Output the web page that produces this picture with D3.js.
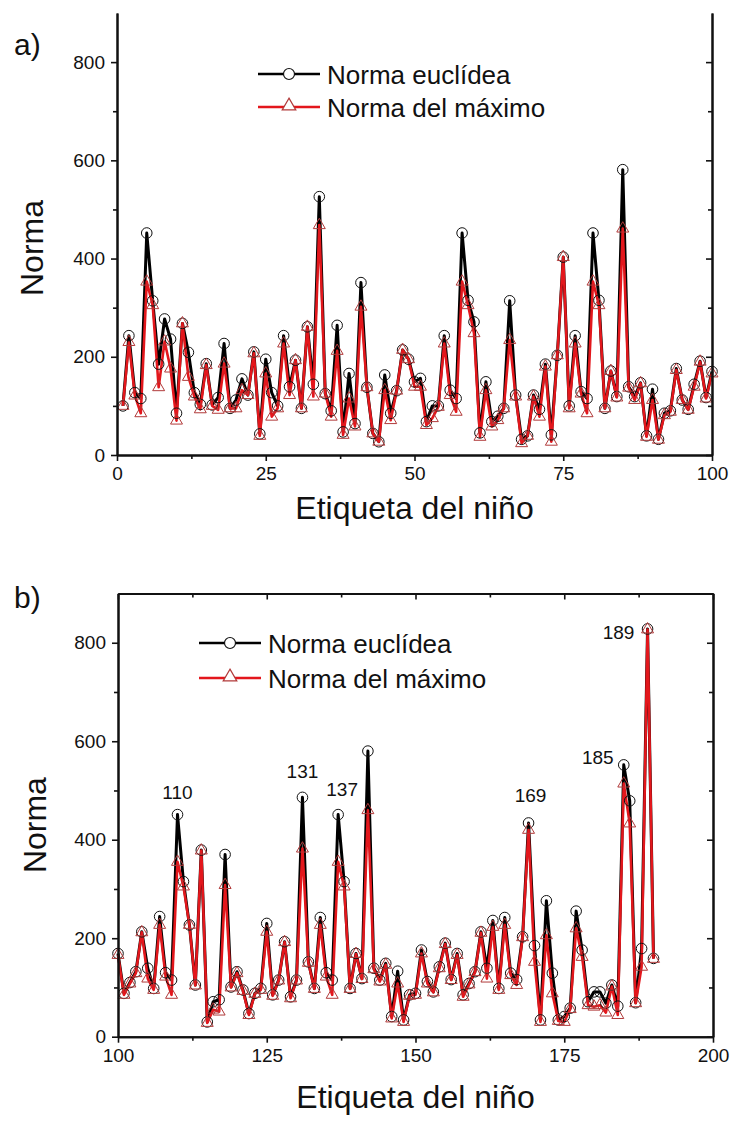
<!DOCTYPE html>
<html>
<head>
<meta charset="utf-8">
<script src="https://cdn.jsdelivr.net/npm/d3@7"></script>
<style>
  body { margin: 0; background: #fff; }
  text { font-family: "Liberation Sans", Arial, sans-serif; fill: #111; }
</style>
</head>
<body>
<div id="main"></div>
<script>
// etiquetas de los niños (1..100 y 100..190)
const ninosA = d3.range(1, 101);
const ninosB = d3.range(100, 191);

// panel a) norma euclídea / norma del máximo
const euclidA = [100, 243, 127, 115, 452, 314, 185, 277, 236, 85,
  268, 209, 127, 103, 186, 102, 117, 227, 95, 112,
  155, 122, 210, 43, 195, 127, 100, 243, 139, 193,
  95, 261, 144, 526, 125, 90, 264, 47, 166, 64,
  351, 138, 44, 27, 163, 85, 131, 214, 195, 149,
  156, 68, 100, 100, 243, 132, 115, 452, 315, 271,
  45, 149, 68, 79, 95, 314, 122, 32, 39, 122,
  93, 185, 41, 203, 403, 100, 243, 129, 115, 452,
  315, 95, 171, 119, 581, 139, 119, 147, 39, 134,
  32, 85, 90, 176, 112, 93, 144, 191, 117, 170];
const maximoA = [100, 230, 121, 85, 353, 305, 138, 231, 176, 70,
  268, 159, 119, 93, 183, 100, 92, 186, 95, 95,
  132, 122, 207, 39, 166, 78, 95, 227, 122, 193,
  95, 261, 119, 468, 125, 78, 212, 41, 115, 58,
  302, 138, 44, 27, 132, 71, 131, 214, 195, 139,
  139, 61, 75, 98, 227, 122, 88, 353, 305, 248,
  37, 132, 58, 71, 95, 234, 119, 24, 39, 119,
  78, 180, 27, 203, 403, 95, 227, 125, 85, 353,
  305, 95, 171, 117, 461, 137, 112, 146, 37, 112,
  31, 81, 88, 173, 112, 92, 139, 190, 115, 166];

// panel b)
const euclidB = [169, 88, 110, 132, 213, 139, 98, 244, 130, 115,
  451, 315, 227, 105, 379, 30, 71, 75, 370, 101,
  132, 95, 47, 88, 98, 230, 85, 115, 193, 81,
  115, 486, 152, 98, 242, 130, 115, 451, 315, 98,
  169, 118, 580, 139, 115, 149, 41, 133, 34, 85,
  88, 176, 112, 91, 142, 190, 116, 169, 85, 108,
  132, 213, 139, 236, 98, 242, 129, 116, 203, 434,
  185, 34, 276, 129, 34, 41, 58, 255, 176, 71,
  91, 91, 68, 105, 62, 552, 479, 69, 179, 828,
  159];
const maximoB = [166, 85, 108, 129, 212, 118, 95, 227, 122, 85,
  355, 305, 227, 104, 378, 28, 55, 51, 308, 100,
  129, 93, 44, 87, 95, 213, 83, 114, 192, 78,
  114, 382, 150, 97, 227, 122, 85, 355, 305, 97,
  168, 117, 460, 137, 112, 146, 37, 108, 30, 83,
  85, 169, 108, 90, 139, 188, 115, 166, 81, 106,
  131, 211, 118, 223, 95, 227, 125, 105, 202, 420,
  152, 30, 206, 88, 32, 30, 56, 220, 162, 64,
  61, 64, 49, 102, 44, 514, 433, 68, 142, 827,
  158];

// niños destacados en b)
const destacadosB = [110, 131, 137, 169, 185, 189];

const yTicks = [0, 200, 400, 600, 800];
const serieNombres = ["Norma euclídea", "Norma del máximo"];

class Painel {
  constructor(svg, config) {
    this.svg = svg;
    this.config = config;
    this.g = svg.append('g');
    this.createScales();
  }

  createScales() {
    let c = this.config;
    this.xScale = d3.scaleLinear().domain(c.xDomain).range([c.left, c.right]);
    this.yScale = d3.scaleLinear().domain([0, 900]).range([c.bottom, c.top]);
  }

  renderAxes() {
    let c = this.config;
    let xMajor = d3.range(c.xDomain[0], c.xDomain[1] + 1, 25);
    let xMinor = d3.range(c.xDomain[0] + 12.5, c.xDomain[1], 25);
    let yMinor = [100, 300, 500, 700];

    let bottom = d3.axisBottom(this.xScale).tickValues(xMajor).tickSize(6).tickSizeOuter(0).tickPadding(6);
    let bx = this.g.append('g').attr('transform', `translate(0,${c.bottom})`).call(bottom);
    bx.append('g').call(d3.axisBottom(this.xScale).tickValues(xMinor).tickSize(4).tickSizeOuter(0).tickFormat(''));

    let left = d3.axisLeft(this.yScale).tickValues(yTicks).tickSize(6).tickSizeOuter(0).tickPadding(6);
    let ly = this.g.append('g').attr('transform', `translate(${c.left},0)`).call(left);
    ly.append('g').call(d3.axisLeft(this.yScale).tickValues(yMinor).tickSize(4).tickSizeOuter(0).tickFormat(''));

    // eje derecho con marcas hacia dentro
    let ry = this.g.append('g').attr('transform', `translate(${c.right},0)`)
      .call(d3.axisRight(this.yScale).tickValues(yTicks).tickSize(-6).tickSizeOuter(0).tickFormat(''));
    ry.append('g').call(d3.axisRight(this.yScale).tickValues(yMinor).tickSize(-4).tickSizeOuter(0).tickFormat(''));

    if (c.box) {
      let tx = this.g.append('g').attr('transform', `translate(0,${c.top})`)
        .call(d3.axisTop(this.xScale).tickValues(xMajor).tickSize(-6).tickSizeOuter(0).tickFormat(''));
      tx.append('g').call(d3.axisTop(this.xScale).tickValues(xMinor).tickSize(-4).tickSizeOuter(0).tickFormat(''));
    }

    this.g.selectAll('.domain').attr('stroke', '#111').attr('stroke-width', 2);
    this.g.selectAll('.tick line').attr('stroke', '#111').attr('stroke-width', 1.6);
    this.g.selectAll('.tick text')
      .attr('font-size', c.tickSize).attr('fill', '#111')
      .attr('font-family', '"Liberation Sans", Arial, sans-serif');

    // títulos
    this.g.append('text')
      .attr('transform', `translate(${c.ytitleX},${(c.top + c.bottom) / 2 + c.ytitleDy}) rotate(-90)`)
      .attr('text-anchor', 'middle')
      .attr('font-size', c.titleSize)
      .text('Norma');
    this.g.append('text')
      .attr('x', (c.left + c.right) / 2)
      .attr('y', c.xtitleY)
      .attr('text-anchor', 'middle')
      .attr('font-size', c.titleSize)
      .text('Etiqueta del niño');
    this.g.append('text')
      .attr('x', 14)
      .attr('y', c.letterY)
      .attr('font-size', 30)
      .text(c.letter);
  }

  renderSeries(xs, euclid, maximo) {
    let x = this.xScale, y = this.yScale;
    let pe = xs.map((k, i) => ({ k: k, v: euclid[i] }));
    let pm = xs.map((k, i) => ({ k: k, v: maximo[i] }));
    let line = d3.line().x(d => x(d.k)).y(d => y(d.v));

    this.g.append('path').datum(pe).attr('d', line)
      .attr('fill', 'none').attr('stroke', '#000').attr('stroke-width', 3).attr('stroke-linejoin', 'round');
    this.g.append('path').datum(pm).attr('d', line)
      .attr('fill', 'none').attr('stroke', '#e3171c').attr('stroke-width', 2.6).attr('stroke-linejoin', 'round');

    this.g.append('g').selectAll('circle').data(pe).join('circle')
      .attr('cx', d => x(d.k)).attr('cy', d => y(d.v)).attr('r', 5.3)
      .attr('fill', 'none').attr('stroke', '#111').attr('stroke-width', 1);

    let tri = d3.symbol().type(d3.symbolTriangle).size(62);
    this.g.append('g').selectAll('path').data(pm).join('path')
      .attr('d', tri)
      .attr('transform', d => `translate(${x(d.k)},${y(d.v)})`)
      .attr('fill', 'none').attr('stroke', '#b13a3a').attr('stroke-width', 1);
  }

  renderLegend() {
    let c = this.config;
    let lg = this.g.append('g').attr('transform', `translate(${c.legendX},${c.legendY})`);
    let gap = c.legendGap;
    lg.append('line').attr('x1', 0).attr('x2', 62).attr('y1', 0).attr('y2', 0)
      .attr('stroke', '#000').attr('stroke-width', 2.6);
    lg.append('circle').attr('cx', 31).attr('cy', 0).attr('r', 5.5)
      .attr('fill', '#fff').attr('stroke', '#111').attr('stroke-width', 1.2);
    lg.append('line').attr('x1', 0).attr('x2', 62).attr('y1', gap).attr('y2', gap)
      .attr('stroke', '#e3171c').attr('stroke-width', 2.6);
    lg.append('path').attr('d', d3.symbol().type(d3.symbolTriangle).size(80))
      .attr('transform', `translate(31,${gap - 1})`)
      .attr('fill', '#fff').attr('stroke', '#b13a3a').attr('stroke-width', 1.2);
    lg.selectAll('text.ley').data(serieNombres).join('text')
      .attr('class', 'ley')
      .attr('x', 69)
      .attr('y', (d, i) => i * gap + 10)
      .attr('font-size', c.legendSize)
      .text(d => d);
  }

  renderLabels(ids, euclid, xs) {
    let off = { 110: [0, -23], 131: [0, -26], 137: [4, -26], 169: [2, -28], 185: [-26, -8], 189: [-29, 3] };
    let x = this.xScale, y = this.yScale;
    this.g.append('g').selectAll('text').data(ids).join('text')
      .attr('x', d => x(d) + off[d][0])
      .attr('y', d => y(euclid[xs.indexOf(d)]) + off[d][1] + 7)
      .attr('text-anchor', 'middle')
      .attr('font-size', 19)
      .text(d => d);
  }
}

function main() {
  let svg = d3.select('#main').append('svg').attr('width', 732).attr('height', 1124);

  let a = new Painel(svg, {
    letter: 'a)', letterY: 55, xDomain: [0, 100],
    left: 117, right: 712, top: 13, bottom: 455, box: false,
    tickSize: 19, titleSize: 32, ytitleX: 43, ytitleDy: 14, xtitleY: 519,
    legendX: 258, legendY: 74, legendGap: 33, legendSize: 26
  });
  a.renderSeries(ninosA, euclidA, maximoA);
  a.renderAxes();
  a.renderLegend();

  let b = new Painel(svg, {
    letter: 'b)', letterY: 608, xDomain: [100, 200],
    left: 118, right: 713, top: 593.5, bottom: 1036.7, box: true,
    tickSize: 19, titleSize: 32, ytitleX: 46, ytitleDy: 10, xtitleY: 1108,
    legendX: 199, legendY: 643, legendGap: 35, legendSize: 26
  });
  b.renderSeries(ninosB, euclidB, maximoB);
  b.renderAxes();
  b.renderLegend();
  b.renderLabels(destacadosB, euclidB, ninosB);
}

main();
</script>
</body>
</html>
